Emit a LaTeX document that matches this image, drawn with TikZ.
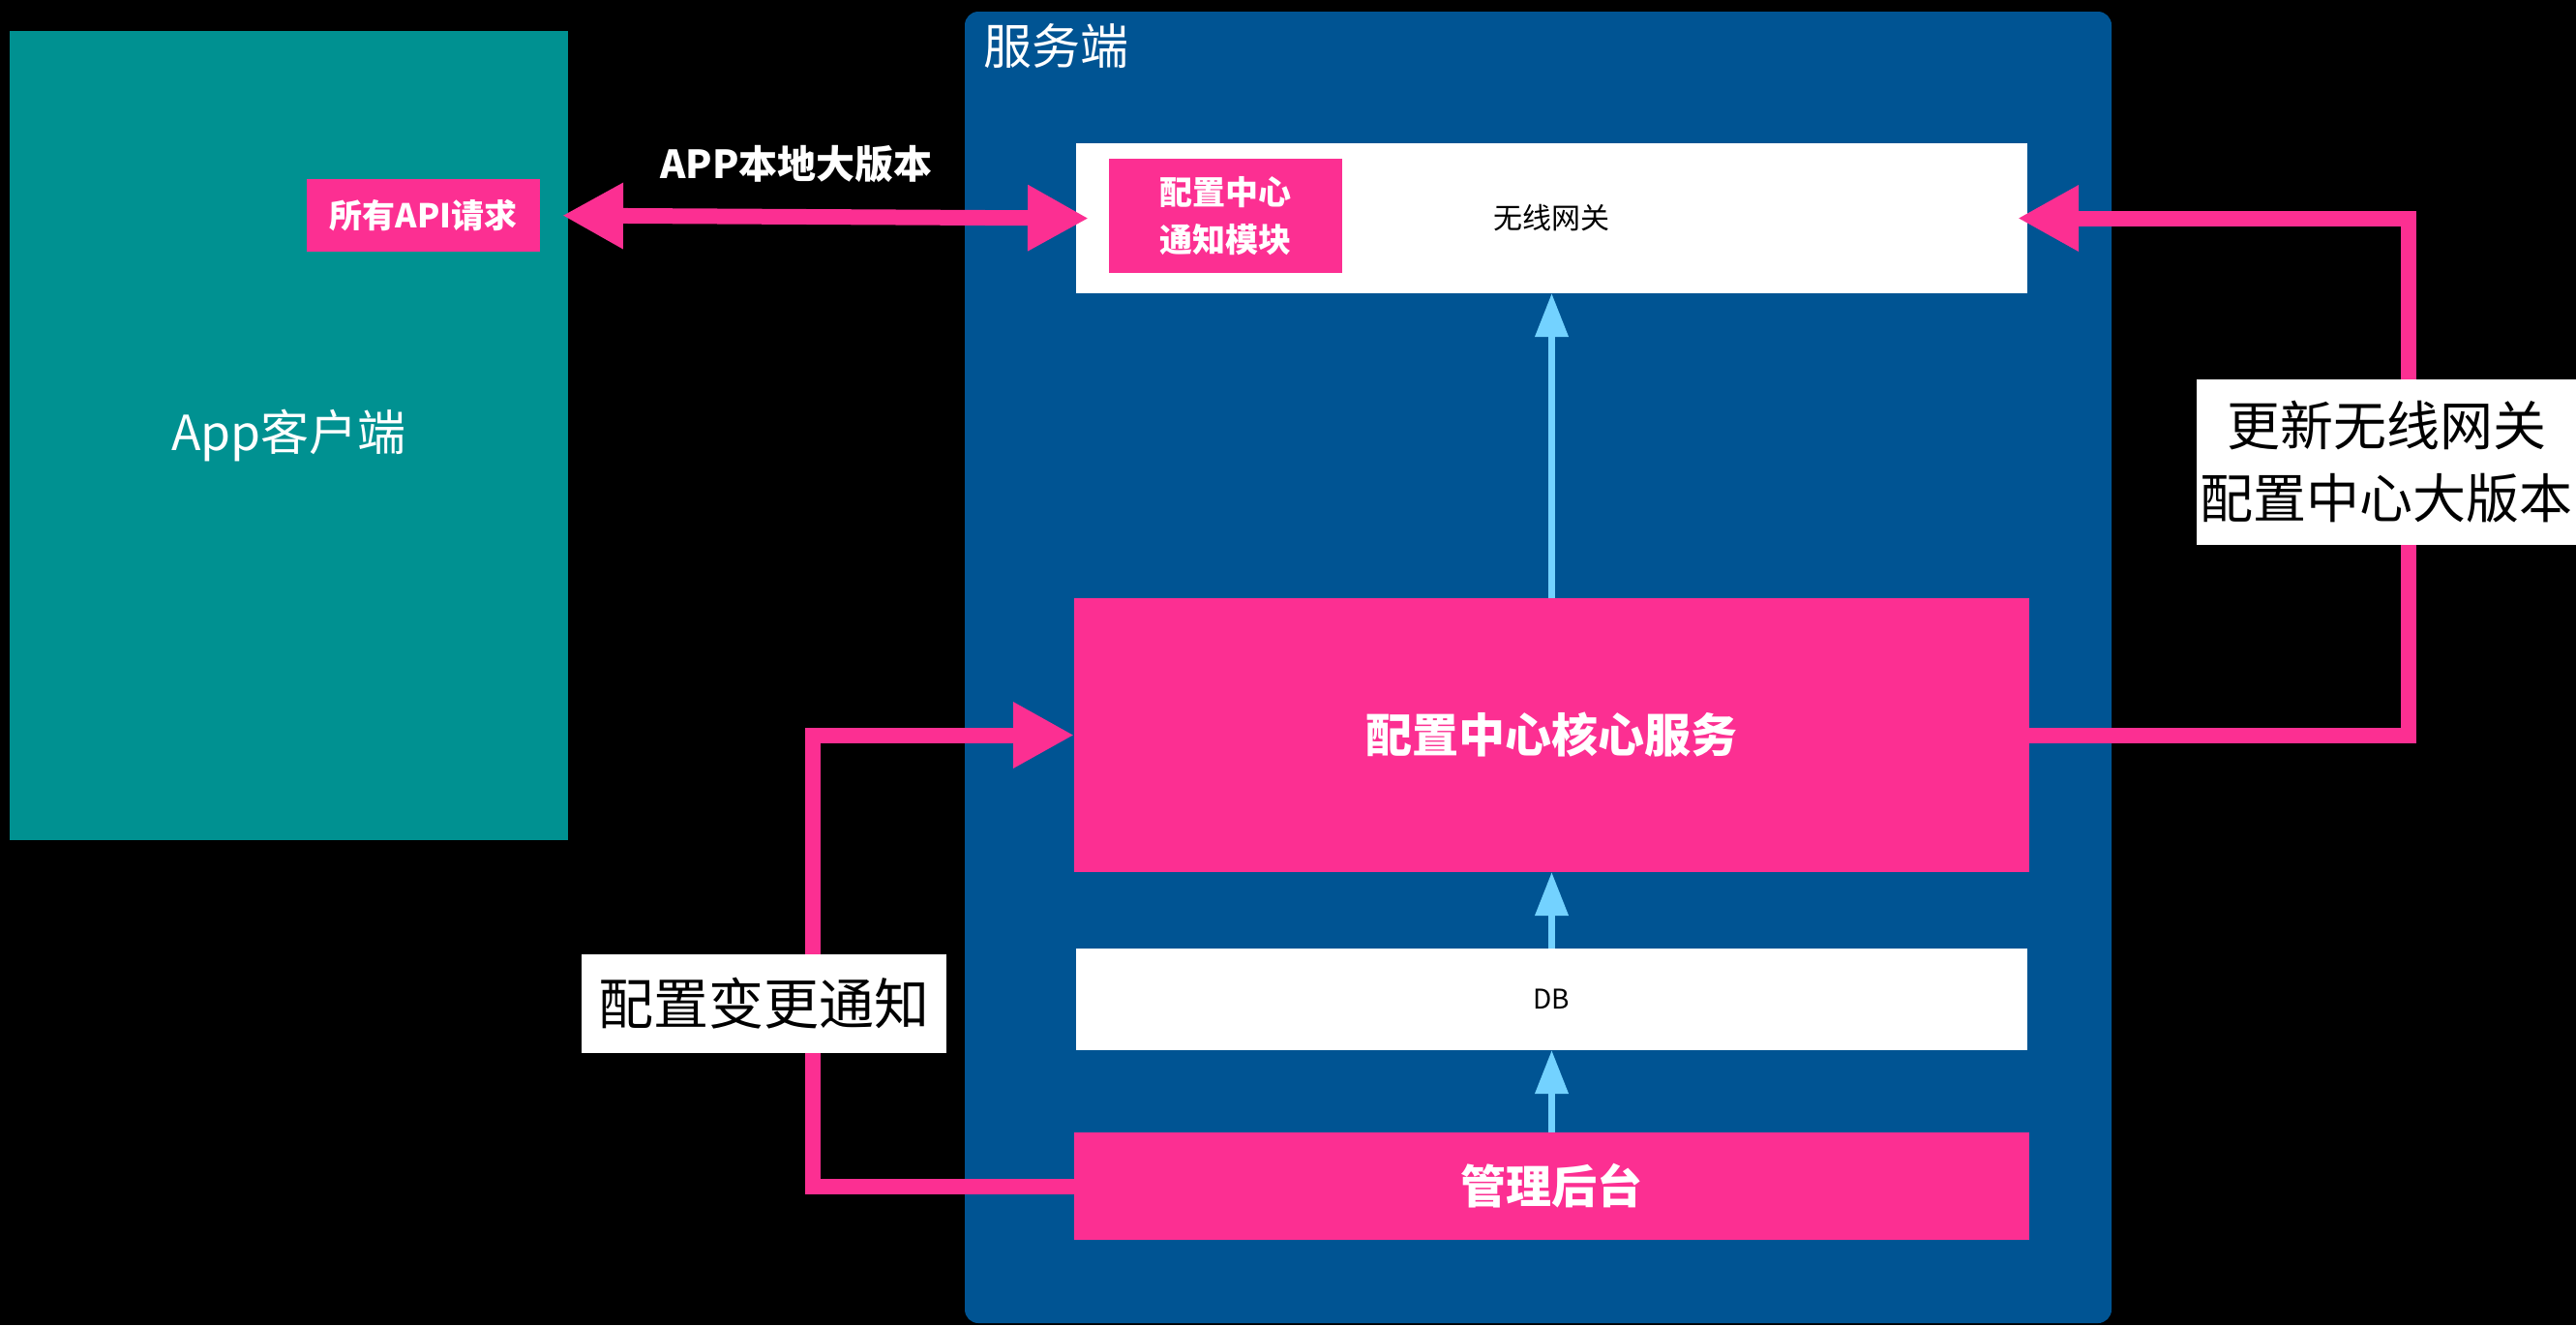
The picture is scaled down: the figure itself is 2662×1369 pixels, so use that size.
\documentclass[tikz,border=0pt]{standalone}
\usepackage{fontspec}
\setmainfont{Noto Sans CJK SC}
\usetikzlibrary{arrows.meta,calc}
\definecolor{appteal}{RGB}{0,145,145}
\definecolor{srvblue}{RGB}{0,84,147}
\definecolor{hotpink}{RGB}{252,47,146}
\definecolor{skyblue}{RGB}{115,210,255}
\newcommand\fsz[2]{\fontsize{#1}{#2}\selectfont}
\begin{document}
\begin{tikzpicture}[x=1pt,y=-1pt,
  plainbox/.style={rectangle,inner sep=0pt,outer sep=0pt,align=center},
  pinkbox/.style={plainbox,fill=hotpink,text=white},
  whitebox/.style={plainbox,fill=white,text=black},
  pinkarrow/.style={draw=hotpink,line width=16pt,-{Triangle[length=63pt,width=64pt]}},
  pinkdouble/.style={draw=hotpink,line width=16pt,{Triangle[length=63pt,width=64pt]}-{Triangle[length=63pt,width=64pt]}},
  cyanarrow/.style={draw=skyblue,line width=7pt,-{Triangle[length=45pt,width=33pt]}}]
\fill[black] (0,0) rectangle (2662,1369);
\useasboundingbox (0,0) rectangle (2662,1369);
% client
\node[plainbox,fill=appteal,text=white,minimum width=577pt,minimum height=836pt,font=\fsz{50}{60}] (app) at (298.5,450) {App客户端};
\node[pinkbox,minimum width=241pt,minimum height=75pt,font=\fsz{34}{40}\bfseries] (api) at (437.5,222.5) {所有API请求};
% server container
\node[plainbox,fill=srvblue,rounded corners=14pt,minimum width=1185pt,minimum height=1355pt] (srv) at (1589.5,689.5) {};
\node[plainbox,text=white,font=\fsz{50}{60}] (srvtitle) at (1091,48) {服务端};
% gateway
\node[whitebox,minimum width=983pt,minimum height=155pt,font=\fsz{30}{36}] (gw) at (1603.5,225.5) {无线网关};
\node[pinkbox,minimum width=241pt,minimum height=118pt,font=\fsz{34}{49}\bfseries] (mod) at (1266.5,223) {配置中心\\通知模块};
% core
\node[pinkbox,minimum width=987pt,minimum height=283pt,font=\fsz{48}{58}\bfseries] (core) at (1603.5,759.5) {配置中心核心服务};
% db
\node[whitebox,minimum width=983pt,minimum height=105pt,font=\fsz{28}{34}] (db) at (1603.5,1032.5) {DB};
% admin
\node[pinkbox,minimum width=987pt,minimum height=111pt,font=\fsz{47}{56}\bfseries] (admin) at (1603.5,1225.5) {管理后台};
% cyan arrows
\draw[cyanarrow] (core.north) -- (gw.south);
\draw[cyanarrow] (db.north) -- (core.south);
\draw[cyanarrow] (admin.north) -- (db.south);
% api double arrow
\draw[pinkdouble,shorten <=23pt,shorten >=-13pt] (api.east) -- (gw.west);
\node[plainbox,text=white,font=\fsz{40}{48}\bfseries] (lblapp) at (823,170) {APP本地大版本};
% left loop
\coordinate (lc) at (840,1000);
\draw[pinkarrow] (admin.west) -- (admin.west -| lc) -- (lc |- core.west) -- (core.west);
\node[whitebox,minimum width=377pt,minimum height=102pt,font=\fsz{57}{68}] (lblchg) at (789.5,1037) {配置变更通知};
% right loop
\coordinate (rc) at (2489,500);
\draw[pinkarrow,shorten >=-10pt] (core.east) -- (core.east -| rc) -- (rc |- gw.east) -- (gw.east);
\node[whitebox,minimum width=392pt,minimum height=171pt,font=\fsz{55}{75}] (lblupd) at (2466,477.5) {更新无线网关\\配置中心大版本};
\end{tikzpicture}
\end{document}
